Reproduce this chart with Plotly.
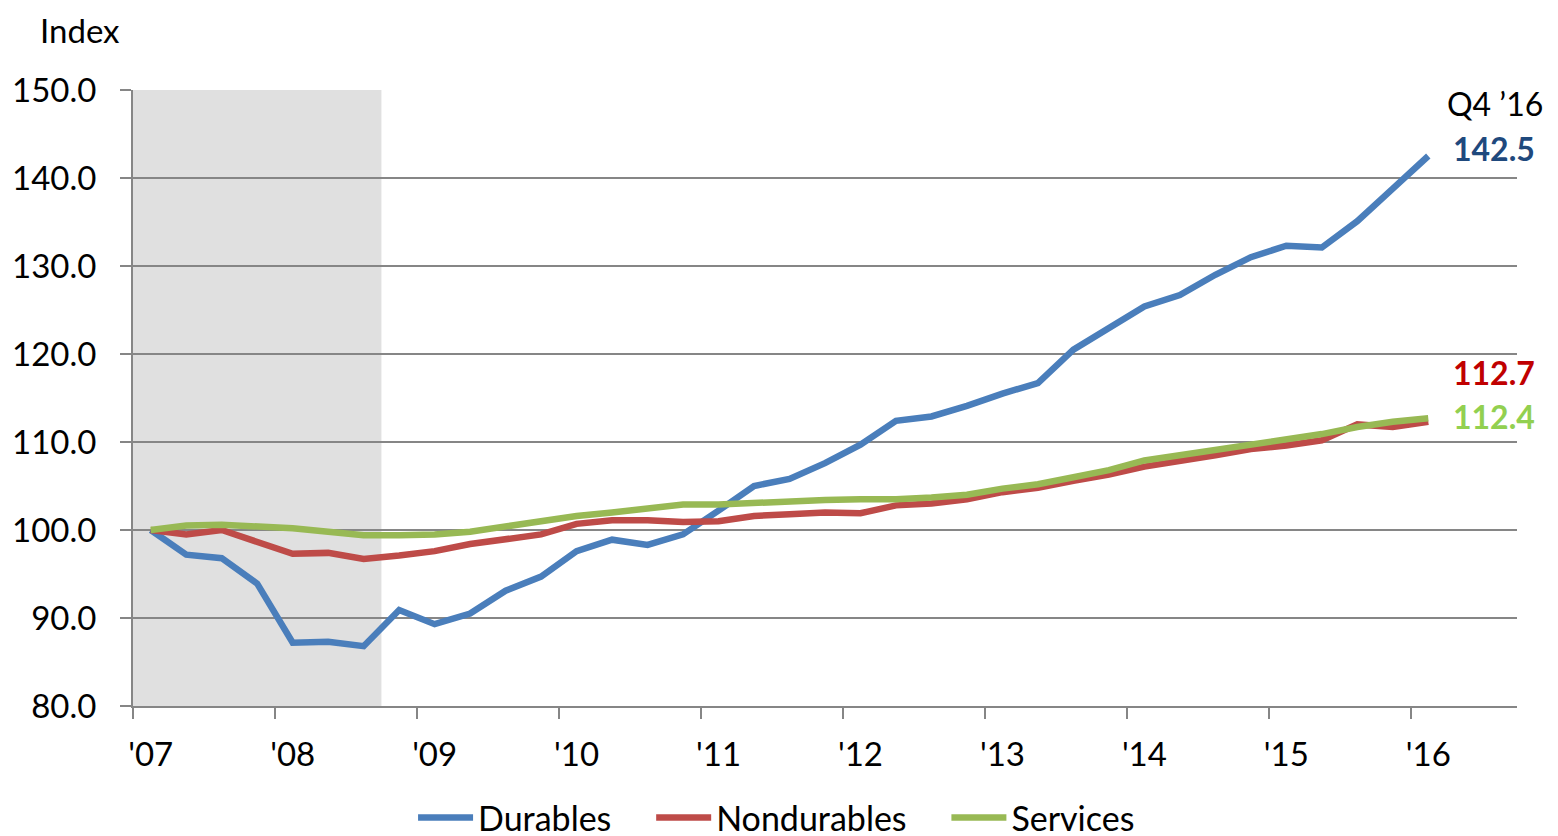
import plotly.graph_objects as go

# quarterly index, Q4 2007 = 100
quarters = [
    "Q4 '07",
    "Q1 '08", "Q2 '08", "Q3 '08", "Q4 '08",
    "Q1 '09", "Q2 '09", "Q3 '09", "Q4 '09",
    "Q1 '10", "Q2 '10", "Q3 '10", "Q4 '10",
    "Q1 '11", "Q2 '11", "Q3 '11", "Q4 '11",
    "Q1 '12", "Q2 '12", "Q3 '12", "Q4 '12",
    "Q1 '13", "Q2 '13", "Q3 '13", "Q4 '13",
    "Q1 '14", "Q2 '14", "Q3 '14", "Q4 '14",
    "Q1 '15", "Q2 '15", "Q3 '15", "Q4 '15",
    "Q1 '16", "Q2 '16", "Q3 '16", "Q4 '16",
]

durables = [
    100.0, 97.2, 96.8, 93.9, 87.2, 87.3, 86.8, 90.9, 89.3, 90.5,
    93.1, 94.7, 97.6, 98.9, 98.3, 99.5, 102.2, 105.0, 105.8, 107.6,
    109.7, 112.4, 112.9, 114.1, 115.5, 116.7, 120.5, 122.9, 125.4, 126.7,
    129.0, 131.0, 132.3, 132.1, 135.1, 138.8, 142.5,
]
nondurables = [
    100.0, 99.5, 100.0, 98.7, 97.3, 97.4, 96.7, 97.1, 97.6, 98.4,
    98.9, 99.5, 100.7, 101.1, 101.1, 100.9, 101.0, 101.6, 101.8, 102.0,
    101.9, 102.8, 103.0, 103.5, 104.3, 104.8, 105.6, 106.3, 107.2, 107.8,
    108.5, 109.2, 109.6, 110.2, 112.0, 111.7, 112.3,
]
services = [
    100.0, 100.5, 100.6, 100.4, 100.2, 99.8, 99.4, 99.4, 99.5, 99.8,
    100.4, 101.0, 101.6, 102.0, 102.4, 102.9, 102.9, 103.1, 103.3, 103.4,
    103.5, 103.5, 103.7, 104.0, 104.7, 105.2, 106.0, 106.8, 107.9, 108.5,
    109.1, 109.6, 110.3, 110.9, 111.7, 112.3, 112.7,
]

year_labels = ["'07", "'08", "'09", "'10", "'11", "'12", "'13", "'14", "'15", "'16"]
end_labels = ["142.5", "112.7", "112.4"]

# recession shading: Q4 '07 through Q2 '09
rec_start, rec_end = "Q4 '07", "Q2 '09"

FONT = "Lato"
GRID = "#868686"
PAD = "\u00a0" * 4  # extra room between legend entries

x = list(range(len(quarters)))
year_pos = [i for i, q in enumerate(quarters) if q.startswith("Q4")]

fig = go.Figure()

series = [
    ("Durables", durables, "#4A7EBB"),
    ("Nondurables", nondurables, "#BE4B48"),
    ("Services", services, "#98B954"),
]
for k, (name, vals, col) in enumerate(series):
    fig.add_trace(go.Scatter(
        x=x, y=vals, name=name + (PAD if k < len(series) - 1 else ""), mode="lines",
        line=dict(color=col, width=6.5),
        customdata=quarters,
        hovertemplate="%{customdata}: %{y:.1f}<extra>" + name + "</extra>",
    ))

fig.add_shape(
    type="rect", xref="x", yref="y",
    x0=quarters.index(rec_start) - 0.5, x1=quarters.index(rec_end) + 0.5,
    y0=80, y1=150,
    fillcolor="#E0E0E0", line_width=0, layer="below",
)

# the page body adds an 8px offset, so the figure is laid out 8px up/left
OFF = 8
# plot area in window pixels, used to place the text labels
L, R, T, B = 133, 1517.5, 89.5, 706


def px(xp):
    return (xp - L) / (R - L)


def py(yp):
    return (B - yp) / (B - T)


fig.add_annotation(text="Index", x=px(39), y=py(OFF), xref="paper", yref="paper",
                   xanchor="left", yanchor="top", showarrow=False, borderpad=0,
                   font=dict(size=33, color="black", family=FONT))
fig.add_annotation(text="Q4 \u201916", x=px(1546), y=py(103), xref="paper", yref="paper",
                   xanchor="right", yanchor="middle", showarrow=False,
                   font=dict(size=32, color="black", family=FONT))
label_cols = ["#1F497D", "#C00000", "#92D050"]
label_y = [148, 372, 416]
for txt, col, yy in zip(end_labels, label_cols, label_y):
    fig.add_annotation(text="<b>" + txt + "</b>", x=px(1538), y=py(yy),
                       xref="paper", yref="paper", xanchor="right", yanchor="middle",
                       showarrow=False, font=dict(size=32, color=col, family=FONT))

fig.update_xaxes(
    range=[-0.5, 38.5], automargin=False,
    tickmode="array", tickvals=year_pos, ticktext=year_labels,
    ticks="", ticklabelstandoff=18,
    showgrid=False, zeroline=False,
    showline=True, linecolor=GRID, linewidth=2,
    minor=dict(tickmode="array", tickvals=[p - 0.5 for p in year_pos],
               ticks="outside", ticklen=11, tickcolor=GRID, tickwidth=2, showgrid=False),
    tickfont=dict(size=33, color="black", family=FONT),
)
fig.update_yaxes(
    range=[80, 150], automargin=False,
    tickmode="linear", tick0=80, dtick=10, tickformat=".1f",
    ticks="outside", ticklen=11, tickcolor=GRID, tickwidth=2,
    ticklabelstandoff=17,
    showgrid=True, gridcolor=GRID, gridwidth=2,
    showline=True, linecolor=GRID, linewidth=2, zeroline=False,
    tickfont=dict(size=33, color="black", family=FONT),
)

fig.update_layout(
    width=1558, height=836,
    margin=dict(l=L - OFF, r=1558 - R + OFF, t=T - OFF, b=836 - B + OFF),
    plot_bgcolor="white", paper_bgcolor="white",
    font=dict(family=FONT, color="black"),
    showlegend=True,
    legend=dict(orientation="h", xref="container", yref="container",
                x=0.4933, xanchor="center", y=0.066, yanchor="top",
                font=dict(size=34, family=FONT, color="black"),
                itemwidth=55, tracegroupgap=0),
)

fig.write_html("out.html")
